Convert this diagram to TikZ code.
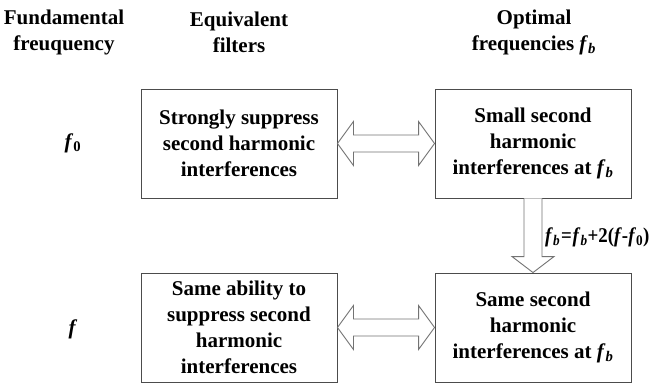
\documentclass[tikz,border=0pt]{standalone}
\usepackage{fontspec}
\setmainfont{Liberation Serif}
\usetikzlibrary{calc}
\newcommand{\fbsym}{\textit{f}\textsubscript{\textit{b}}}
\begin{document}
\begin{tikzpicture}[x=1pt,y=-1pt,
  txt/.style={font=\fontsize{21}{26}\selectfont\bfseries,align=center,inner sep=0pt},
  box/.style={txt,draw=black!70,line width=0.9pt,minimum width=196pt,minimum height=109pt},
  arr/.style={draw=black!55,line width=0.9pt,fill=white,line join=miter}]
\useasboundingbox (0,0) rectangle (662,383);
% headers
\node[txt] (h1) at (64,32) {Fundamental\\freuquency};
\node[txt] (h2) at (239,32) {Equivalent\\filters};
\node[txt] (h3) at (534,32) {Optimal\\frequencies \fbsym};
% row labels
\node[txt] (r1) at (73,143) {\textit{f}\textsubscript{0}};
\node[txt] (r2) at (73,329) {\textit{f}};
% boxes
\node[box] (b1) at (239,143.5) {Strongly suppress\\second harmonic\\interferences};
\node[box] (b2) at (533,143.5) {Small second\\harmonic\\interferences at \fbsym};
\node[box] (b3) at (239,327.5) {Same ability to\\suppress second\\harmonic\\interferences};
\node[box] (b4) at (533,327.5) {Same second\\harmonic\\interferences at \fbsym};
% double arrows
\draw[arr] (b1.east) -- ++(16,-22) -- ++(0,13.5) -- ($(b2.west)+(-16,-8.5)$) -- ++(0,-13.5) -- (b2.west) -- ++(-16,22) -- ++(0,-13.5) -- ($(b1.east)+(16,8.5)$) -- ++(0,13.5) -- cycle;
\draw[arr] (b3.east) -- ++(16,-22) -- ++(0,13.5) -- ($(b4.west)+(-16,-8.5)$) -- ++(0,-13.5) -- (b4.west) -- ++(-16,22) -- ++(0,-13.5) -- ($(b3.east)+(16,8.5)$) -- ++(0,13.5) -- cycle;
% down arrow
\draw[arr] ($(b2.south)+(-9,0)$) -- ($(b4.north)+(-9,-16)$) -- ++(-12,0) -- (b4.north) -- ++(21,-16) -- ++(-12,0) -- ($(b2.south)+(9,0)$);
\node[txt,anchor=west,xscale=0.9] (eq) at (545,237) {\fbsym\kern1pt=\kern1pt\fbsym+2(\textit{f}-\textit{f}\textsubscript{0})};
\end{tikzpicture}
\end{document}
